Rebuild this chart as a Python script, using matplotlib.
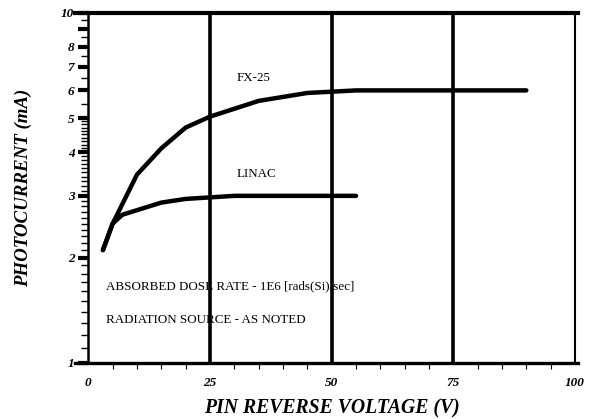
import numpy as np
import matplotlib
matplotlib.use("Agg")
import matplotlib.pyplot as plt
from matplotlib.ticker import FixedLocator, NullFormatter

# data
fx25_v = [3, 5, 10, 15, 20, 25, 35, 45, 55, 90]
fx25_i = [2.1, 2.5, 3.45, 4.1, 4.7, 5.05, 5.6, 5.9, 6.0, 6.0]
linac_v = [3, 5, 7, 15, 20, 25, 30, 55]
linac_i = [2.1, 2.5, 2.65, 2.87, 2.94, 2.97, 3.0, 3.0]

x_ticks = [0, 25, 50, 75, 100]
y_major = [1, 2, 3, 4, 5, 6, 7, 8, 9, 10]
y_labels = ["1", "2", "3", "4", "5", "6", "7", "8", "", "10"]
y_minor = [1.1, 1.2, 1.3, 1.4, 1.5, 1.6, 1.7, 1.8, 1.9,
           2.1, 2.2, 2.3, 2.4, 2.5, 2.6, 2.7, 2.8, 2.9,
           3.1, 3.2, 3.3, 3.4, 3.5, 3.6, 3.7, 3.8, 3.9,
           4.1, 4.2, 4.3, 4.4, 4.5, 4.6, 4.7, 4.8, 4.9,
           5.5, 6.5, 7.5, 8.5, 9.5]

plt.rcParams["font.family"] = ["Liberation Serif", "DejaVu Serif"]
plt.rcParams["font.weight"] = "bold"
plt.rcParams["font.style"] = "italic"

fig = plt.figure(figsize=(5.9, 4.19), dpi=100)
ax = fig.add_axes([0.1497, 0.1337, 0.8249, 0.836])

ax.set_yscale("log")
ax.set_xlim(0, 100)
ax.set_ylim(1, 10)

# vertical grid lines at 25/50/75
for v in x_ticks[1:-1]:
    ax.axvline(v, color="black", lw=2.6, zorder=3)

ax.plot(fx25_v, fx25_i, color="black", lw=3.2, solid_capstyle="round", zorder=4)
ax.plot(linac_v, linac_i, color="black", lw=3.2, solid_capstyle="round", zorder=4)

txt = dict(fontsize=9.4, va="center", ha="left", zorder=2,
           fontweight="normal", fontstyle="normal")
ax.text(30.5, 6.5, "FX-25", **txt)
ax.text(30.5, 3.46, "LINAC", **txt)
ax.text(3.6, 1.66, "ABSORBED DOSE RATE - 1E6 [rads(Si)/sec]", **txt)
ax.text(3.6, 1.33, "RADIATION SOURCE - AS NOTED", **txt)

# spines - top and bottom run a little past the left spine like long ticks
ax.spines["top"].set_linewidth(3.0)
ax.spines["bottom"].set_linewidth(2.4)
ax.spines["left"].set_linewidth(1.8)
ax.spines["right"].set_linewidth(1.5)
ax.spines["top"].set_bounds(-2.7, 100.6)
ax.spines["bottom"].set_bounds(-2.7, 100.6)

# ticks
ax.set_xticks(x_ticks, [str(t) for t in x_ticks])
ax.xaxis.set_minor_locator(FixedLocator(list(range(5, 100, 5))))
ax.tick_params(axis="x", which="major", length=0, pad=10, labelsize=9.5)
ax.tick_params(axis="x", which="minor", length=4, width=0.8, direction="out")

ax.set_yticks(y_major, y_labels)
ax.yaxis.set_minor_locator(FixedLocator(y_minor))
ax.yaxis.set_minor_formatter(NullFormatter())
ax.tick_params(axis="y", which="major", length=7, width=3.0, direction="out",
               pad=3, labelsize=9.5)
ax.tick_params(axis="y", which="minor", length=5, width=1.0, direction="out")

ax.set_xlabel("PIN REVERSE VOLTAGE (V)", fontsize=14.2, fontweight="bold",
              labelpad=7)
ax.set_ylabel("PHOTOCURRENT (mA)", fontsize=13.6, fontweight="bold",
              labelpad=21)

fig.savefig("out.png", dpi=100)
